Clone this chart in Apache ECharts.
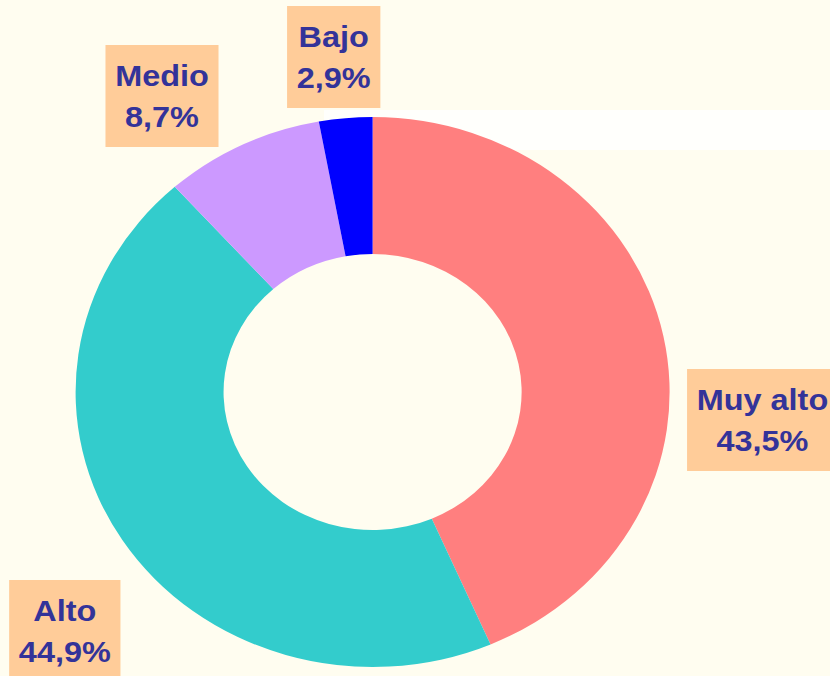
<!DOCTYPE html>
<html>
<head>
<meta charset="utf-8">
<script src="https://cdn.jsdelivr.net/npm/echarts@6/dist/echarts.min.js"></script>
<style>
  html, body { margin: 0; padding: 0; background: #fffdf0; overflow: hidden; }
  /* the original picture is stretched horizontally by about 8% */
  #chart { width: 769px; height: 676px; transform: scaleX(1.08); transform-origin: 0 0; }
</style>
</head>
<body>
<div id="chart"></div>
<script>
const categories = ['Muy alto', 'Alto', 'Medio', 'Bajo']
const values = [43.5, 44.9, 8.7, 2.9]
const colors = ['#ff7f7f', '#33cccc', '#cc99ff', '#0000ff']

// label anchor points (chart space, before the horizontal stretch)
const labelPos = [[706, 420], [60, 631], [150, 96], [309, 57]]

const fmt = v => String(v).replace('.', ',')

const chart = echarts.init(document.getElementById('chart'), null, { renderer: 'svg' })

chart.setOption({
  backgroundColor: '#fffdf0',
  // soft white band of the paper texture
  graphic: [{
    type: 'rect',
    silent: true,
    z: -10,
    shape: { x: 300, y: 110, width: 469, height: 40 },
    style: { fill: 'rgba(255,255,255,0.8)' }
  }],
  series: [{
    type: 'pie',
    center: [345, 392],
    radius: [138, 275],
    startAngle: 90,
    clockwise: true,
    avoidLabelOverlap: false,
    silent: true,
    itemStyle: { borderWidth: 0 },
    label: {
      show: true,
      position: 'outside',
      formatter: p => p.name + '\n' + fmt(p.value) + '%',
      fontFamily: '"Liberation Sans", Arial, sans-serif',
      fontWeight: 'bold',
      fontSize: 30,
      lineHeight: 41,
      color: '#333399',
      backgroundColor: '#ffcc99',
      padding: [10, 9],
      align: 'center'
    },
    labelLine: { show: false },
    labelLayout: p => ({
      x: labelPos[p.dataIndex][0],
      y: labelPos[p.dataIndex][1],
      align: 'center',
      verticalAlign: 'middle'
    }),
    data: categories.map((c, i) => ({
      name: c,
      value: values[i],
      itemStyle: { color: colors[i] }
    }))
  }]
})
</script>
</body>
</html>
